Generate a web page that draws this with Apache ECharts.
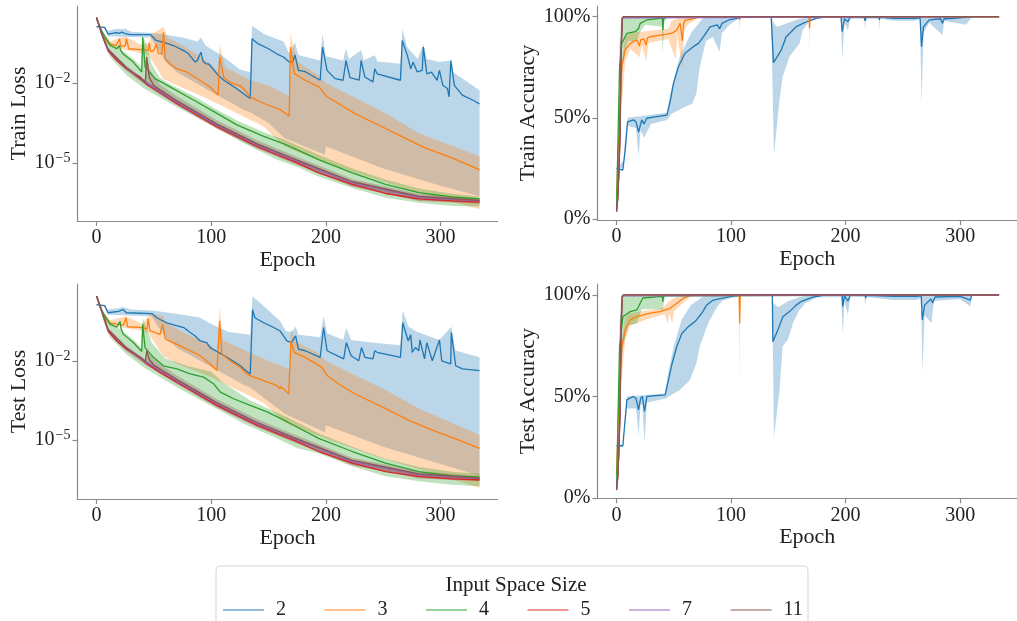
<!DOCTYPE html>
<html>
<head>
<meta charset="utf-8">
<script src="https://cdn.jsdelivr.net/npm/echarts@6/dist/echarts.min.js"></script>
<style>
  html, body { margin: 0; padding: 0; background: #fff; }
  #chart { width: 1017px; height: 621px; }
</style>
</head>
<body>
<div id="chart"></div>
<script>
// legend entries (input space size)
const sizes = ['2', '3', '4', '5', '7', '11']
const epochTicks = [0, 100, 200, 300]
const lossTicks = [-5, -2]        // log10 of the loss
const accTicks = [0, 50, 100]     // percent

// ---- train loss, [epoch, log10(loss)] ----
const tlBlue = [[0,0.11],[7,0.08],[10,-0.17],[17,-0.12],[20,-0.14],[22,-0.1],[25,-0.15],[29,-0.19],[47,-0.19],[52,-0.41],[60,-0.5],[67,-0.6],[76,-0.79],[80,-0.9],[86,-1.22],[88,-1.15],[91,-0.85],[93,-1.2],[95,-1.28],[98,-1.3],[106,-1.71],[111,-1.9],[122,-2.21],[130,-2.46],[134,-2.58],[135.6,-0.35],[141,-0.54],[150,-0.72],[157,-0.91],[163,-1.03],[168,-1.22],[171,-1.2],[173,-0.95],[176,-1.53],[182,-1.58],[195,-1.9],[197,-0.66],[201,-1.53],[208,-1.84],[215,-1.9],[217.5,-1.16],[221,-1.8],[229,-1.9],[230.7,-1.16],[234,-1.78],[241,-1.96],[242.6,-1.47],[244.7,-1.66],[265,-1.9],[266.6,-0.41],[271,-0.97],[274,-1.47],[276,-1.22],[279.7,-1.59],[284,-1.53],[285,-0.66],[288,-1.66],[292,-1.6],[297,-1.9],[299,-1.53],[302,-2.09],[306,-2.21],[307.4,-2.52],[309,-1.16],[312,-2.09],[319,-2.46],[328,-2.64],[334,-2.79]]
const tlBlueHi = [[0,0.15],[10,-0.05],[17,0.02],[25,0.03],[30,-0.08],[47,-0.12],[60,-0.2],[75,-0.3],[88,-0.45],[91,-0.3],[95,-0.6],[110,-1.0],[125,-1.5],[134,-1.6],[135.6,0.14],[146,-0.17],[163,-0.45],[168,-0.9],[173,-0.48],[176,-0.95],[195,-1.16],[197,-0.17],[200,-1.0],[215,-1.16],[217.5,-0.72],[220,-1.1],[230.7,-0.78],[233,-1.15],[242.6,-0.96],[245,-1.2],[265,-1.28],[266.6,0.02],[271,-0.66],[280,-1.1],[285,-0.54],[288,-1.1],[299,-1.22],[309,-1.16],[311,-1.6],[334,-2.27]]
const tlBlueLo = [[0,0.06],[7,0.04],[10,-0.25],[29,-0.28],[47,-0.3],[52,-0.6],[60,-1.2],[70,-1.6],[99,-2.3],[128,-3.0],[134,-3.1],[150,-3.5],[164,-4.07],[199,-4.69],[200,-4.38],[250,-5.2],[300,-5.85],[334,-6.24]]
const tlOrange = [[0,0.39],[3,0.1],[6,-0.29],[12,-0.54],[17,-0.6],[20,-0.35],[21,-0.62],[25,-0.62],[26,-0.33],[28,-0.72],[41,-0.76],[45,-0.78],[46,-0.51],[47,-0.83],[50,-0.78],[52,-0.55],[54,-0.9],[57,-0.92],[58.3,-0.1],[60,-1.1],[64,-1.28],[70,-1.47],[79,-1.6],[90,-1.9],[99,-2.15],[106,-2.46],[107.3,-1.03],[111,-1.8],[117,-1.99],[125,-2.11],[128,-2.2],[134,-2.52],[146,-2.77],[160,-3.0],[168,-3.24],[169,-0.66],[172.5,-1.65],[182,-1.9],[194,-2.15],[201,-2.52],[211,-2.77],[225,-3.14],[249,-3.64],[269,-4.07],[287,-4.44],[310,-4.81],[334,-5.25]]
const tlOrangeHi = [[0,0.42],[6,-0.2],[12,-0.45],[20,-0.3],[26,-0.28],[40,-0.6],[45,-0.5],[48,-0.2],[58.3,0.1],[62,-0.3],[75,-0.6],[90,-1.0],[100,-1.3],[106,-1.6],[107.3,-0.54],[112,-1.4],[134,-1.9],[150,-2.1],[168,-2.5],[169,-0.17],[175,-1.2],[193,-1.7],[200,-2.0],[252,-3.14],[281,-3.88],[334,-4.75]]
const tlOrangeLo = [[0,0.35],[6,-0.4],[12,-0.65],[40,-0.9],[45,-0.95],[52,-1.4],[58,-1.84],[70,-2.09],[99,-2.64],[128,-3.26],[146,-3.64],[157,-4.1],[165,-4.4],[200,-5.0],[250,-5.7],[300,-6.35],[334,-6.73]]
const tlGreen = [[0,0.39],[3,0.05],[6,-0.17],[12,-0.6],[17.5,-0.72],[20,-0.6],[21,-0.78],[23,-0.91],[32,-1.22],[39.4,-1.59],[40.2,-0.29],[42.3,-1.4],[51,-1.84],[64,-2.15],[84.5,-2.64],[105,-3.14],[122.4,-3.57],[145.8,-4.0],[164.5,-4.3],[193.6,-4.87],[223,-5.37],[252,-5.8],[281,-6.11],[310,-6.27],[334,-6.34]]
const tlGreenHi = [[0,0.42],[6,-0.1],[12,-0.5],[23,-0.8],[32,-1.1],[39,-1.4],[40.2,-0.25],[44,-0.6],[48,-1.3],[55,-1.8],[64,-2.05],[85,-2.5],[105,-3.0],[123,-3.42],[146,-3.85],[165,-4.15],[194,-4.7],[223,-5.2],[252,-5.62],[281,-5.95],[310,-6.15],[334,-6.25]]
const tlGreenLo = [[0,0.36],[6,-0.45],[11.7,-1.03],[26,-1.7],[41,-2.2],[70,-2.9],[99,-3.57],[128,-4.25],[157,-4.87],[175,-5.15],[193.6,-5.5],[223,-5.93],[252,-6.3],[281,-6.49],[310,-6.61],[334,-6.63]]
const tlRed = [[0,0.45],[2,0.2],[4.4,-0.17],[10,-0.79],[17.5,-1.16],[26,-1.47],[38,-1.78],[43.7,-2.05],[55,-2.35],[70,-2.77],[87.5,-3.2],[105,-3.64],[122.4,-4.0],[140,-4.38],[157.4,-4.69],[172,-4.94],[193.6,-5.37],[223,-5.8],[252,-6.14],[281,-6.34],[310,-6.42],[334,-6.46]]
const tlRedHi = [[0,0.47],[4.4,-0.12],[10,-0.72],[26,-1.4],[43.7,-1.98],[70,-2.7],[105,-3.56],[140,-4.3],[172,-4.86],[223,-5.72],[281,-6.26],[334,-6.4]]
const tlRedLo = [[0,0.43],[4.4,-0.22],[10,-0.86],[26,-1.54],[43.7,-2.12],[70,-2.84],[105,-3.72],[140,-4.46],[172,-5.02],[223,-5.88],[281,-6.42],[334,-6.52]]
const tlPurple = [[0,0.45],[4.4,-0.15],[10,-0.76],[26,-1.44],[43.7,-2.0],[70,-2.72],[105,-3.58],[140,-4.32],[172,-4.88],[223,-5.74],[281,-6.28],[334,-6.42]]
const tlPurpleHi = [[0,0.48],[4.4,-0.08],[10,-0.68],[26,-1.36],[43.7,-1.92],[70,-2.64],[105,-3.5],[140,-4.24],[172,-4.8],[223,-5.66],[281,-6.2],[334,-6.35]]
const tlPurpleLo = [[0,0.42],[4.4,-0.22],[10,-0.84],[26,-1.52],[43.7,-2.08],[70,-2.8],[105,-3.66],[140,-4.4],[172,-4.96],[223,-5.82],[281,-6.36],[334,-6.48]]
const tlBrown = [[0,0.45],[4.4,-0.15],[10,-0.75],[26,-1.43],[42.5,-1.98],[43.7,-1.03],[46,-1.8],[50,-2.1],[55,-2.25],[70,-2.67],[87.5,-3.1],[105,-3.54],[140,-4.28],[172,-4.84],[223,-5.7],[281,-6.25],[334,-6.4]]
const tlBrownHi = [[0,0.47],[10,-0.7],[26,-1.38],[42.5,-1.9],[43.7,-0.95],[46,-1.5],[55,-2.05],[70,-2.5],[105,-3.4],[140,-4.15],[172,-4.72],[223,-5.6],[281,-6.15],[334,-6.32]]
const tlBrownLo = [[0,0.43],[10,-0.82],[26,-1.5],[43.7,-2.1],[55,-2.42],[70,-2.82],[105,-3.7],[140,-4.44],[172,-5.0],[223,-5.86],[281,-6.4],[334,-6.5]]

// ---- test loss, [epoch, log10(loss)] ----
const blBlue = [[0,0.14],[7,0.1],[10,-0.17],[19,-0.12],[23,-0.05],[26,-0.17],[48,-0.2],[52.5,-0.36],[61,-0.55],[76,-0.73],[81.6,-0.92],[86,-1.05],[90.4,-1.24],[96,-1.3],[99,-1.49],[106.4,-1.67],[113.7,-1.86],[125.4,-2.18],[130,-2.36],[134,-2.49],[136,-0.05],[138,-0.36],[145.8,-0.55],[154.5,-0.73],[160,-0.86],[166,-1.24],[170,-1.3],[173.6,-1.05],[176,-1.55],[182,-1.61],[195,-1.86],[198,-0.73],[201,-1.61],[215.5,-1.92],[217.8,-1.3],[222,-1.8],[228.6,-1.99],[231,-1.49],[234,-1.86],[241,-1.92],[242.6,-1.61],[244.7,-1.67],[265,-1.86],[267,-0.55],[271.8,-1.24],[274,-1.0],[275.3,-1.67],[278,-1.49],[281,-1.61],[282,-1.2],[286,-1.92],[288,-1.3],[292.8,-1.99],[299,-1.2],[301,-1.99],[308.8,-2.11],[309.4,-0.92],[313.2,-2.18],[319,-2.3],[334,-2.36]]
const blBlueHi = [[0,0.18],[10,-0.05],[19,0.0],[23,0.05],[30,-0.05],[48,-0.08],[55,-0.12],[75,-0.25],[90,-0.35],[100,-0.6],[115,-0.9],[134,-1.0],[136,0.45],[146,0.08],[160,-0.48],[165,-0.86],[170,-0.9],[173.6,-0.7],[176,-1.0],[195,-1.1],[198,-0.3],[201,-0.95],[215,-1.2],[217.8,-0.75],[222,-1.2],[240,-1.3],[265,-1.4],[267,-0.08],[272,-0.7],[280,-0.9],[299,-1.2],[309.4,-0.7],[313,-1.6],[334,-1.86]]
const blBlueLo = [[0,0.1],[7,0.06],[10,-0.25],[48,-0.3],[52,-0.6],[60,-1.1],[70,-1.5],[99,-2.2],[128,-2.9],[134,-3.0],[164,-4.0],[199,-4.7],[200,-4.43],[250,-5.25],[300,-5.9],[334,-6.35]]
const blOrange = [[0,0.46],[3,0.1],[6,-0.3],[11.7,-0.55],[23.3,-0.64],[25.7,-0.36],[27,-0.7],[40.8,-0.73],[44,-0.8],[45,-0.39],[46.5,-0.85],[55.4,-0.99],[57.7,-0.61],[60,-1.17],[67,-1.3],[76,-1.49],[90.4,-1.8],[99,-2.11],[105,-2.36],[107.3,-0.48],[109.3,-1.74],[116.6,-1.99],[125.4,-2.24],[131,-2.49],[134,-2.55],[145.8,-2.74],[157.4,-2.93],[160,-3.05],[160.6,-2.96],[167.6,-3.24],[169.5,-1.24],[172.5,-1.67],[182,-1.86],[196.6,-2.24],[201,-2.55],[211,-2.86],[225,-3.24],[249,-3.74],[272,-4.24],[292.8,-4.62],[316,-5.0],[334,-5.31]]
const blOrangeHi = [[0,0.48],[6,-0.2],[12,-0.45],[25.7,-0.3],[40,-0.6],[45,-0.3],[48,-0.2],[57.7,-0.3],[62,-0.6],[75,-0.9],[90,-1.2],[100,-1.4],[105,-1.7],[107.3,0.02],[110,-1.2],[134,-1.7],[150,-2.0],[168,-2.3],[169.5,-0.8],[175,-1.3],[193,-1.7],[200,-2.0],[252,-3.1],[281,-3.8],[334,-4.8]]
const blOrangeLo = [[0,0.42],[6,-0.4],[12,-0.65],[40,-0.85],[45,-0.95],[52,-1.4],[58,-1.8],[70,-2.1],[99,-2.6],[128,-3.2],[146,-3.6],[157,-4.05],[165,-4.35],[200,-4.95],[250,-5.7],[300,-6.35],[334,-6.8]]
const blGreen = [[0,0.46],[3,0.05],[6,-0.2],[11.7,-0.6],[17.5,-0.72],[20.4,-0.5],[21.5,-0.8],[23.3,-0.98],[32,-1.3],[39.4,-1.64],[40.2,-0.61],[42.3,-1.5],[49.6,-1.86],[58.3,-2.18],[70,-2.3],[81.6,-2.49],[93.3,-2.61],[102,-2.86],[108,-3.18],[119.5,-3.43],[134,-3.68],[148.7,-3.93],[166,-4.3],[193.6,-4.93],[223,-5.43],[252,-5.87],[281,-6.19],[310,-6.35],[334,-6.4]]
const blGreenHi = [[0,0.48],[6,-0.12],[12,-0.5],[23,-0.88],[32,-1.18],[39,-1.5],[40.2,-0.36],[44,-0.8],[48,-1.3],[60,-1.9],[80,-2.2],[100,-2.4],[110,-2.8],[134,-3.5],[166,-4.12],[194,-4.75],[223,-5.25],[252,-5.7],[281,-6.02],[310,-6.2],[334,-6.27]]
const blGreenLo = [[0,0.44],[6,-0.5],[11.7,-1.11],[26,-1.74],[41,-2.24],[70,-2.99],[99,-3.68],[128,-4.37],[157,-4.93],[175,-5.31],[193.6,-5.5],[223,-6.0],[252,-6.37],[281,-6.56],[310,-6.69],[334,-6.75]]
const blRed = [[0,0.46],[2,0.2],[4.4,-0.1],[10,-0.86],[17.5,-1.24],[26,-1.55],[38,-1.86],[43.7,-2.1],[55.4,-2.43],[70,-2.8],[87.5,-3.24],[105,-3.68],[122.4,-4.06],[140,-4.43],[157.4,-4.74],[172,-5.0],[193.6,-5.43],[223,-5.87],[252,-6.19],[281,-6.37],[310,-6.47],[334,-6.5]]
const blRedHi = [[0,0.48],[4.4,-0.05],[10,-0.79],[26,-1.48],[43.7,-2.03],[70,-2.73],[105,-3.6],[140,-4.35],[172,-4.92],[223,-5.79],[281,-6.29],[334,-6.44]]
const blRedLo = [[0,0.44],[4.4,-0.15],[10,-0.93],[26,-1.62],[43.7,-2.17],[70,-2.87],[105,-3.76],[140,-4.51],[172,-5.08],[223,-5.95],[281,-6.45],[334,-6.56]]
const blPurple = [[0,0.46],[4.4,-0.08],[10,-0.82],[26,-1.51],[43.7,-2.05],[70,-2.75],[105,-3.62],[140,-4.37],[172,-4.94],[223,-5.81],[281,-6.31],[334,-6.46]]
const blPurpleHi = [[0,0.49],[4.4,-0.01],[10,-0.74],[26,-1.43],[43.7,-1.97],[70,-2.67],[105,-3.54],[140,-4.29],[172,-4.86],[223,-5.73],[281,-6.23],[334,-6.39]]
const blPurpleLo = [[0,0.43],[4.4,-0.15],[10,-0.9],[26,-1.59],[43.7,-2.13],[70,-2.83],[105,-3.7],[140,-4.45],[172,-5.02],[223,-5.89],[281,-6.39],[334,-6.52]]
const blBrown = [[0,0.46],[4.4,-0.08],[10,-0.81],[26,-1.5],[42.5,-2.02],[43.7,-1.61],[46,-1.95],[50,-2.15],[55.4,-2.3],[70,-2.7],[87.5,-3.14],[105,-3.58],[140,-4.33],[172,-4.9],[223,-5.77],[281,-6.28],[334,-6.44]]
const blBrownHi = [[0,0.48],[10,-0.76],[26,-1.45],[42.5,-1.95],[43.7,-1.5],[46,-1.75],[55.4,-2.12],[70,-2.55],[105,-3.45],[140,-4.2],[172,-4.78],[223,-5.67],[281,-6.18],[334,-6.36]]
const blBrownLo = [[0,0.44],[10,-0.88],[26,-1.57],[43.7,-2.14],[55.4,-2.46],[70,-2.85],[105,-3.74],[140,-4.49],[172,-5.06],[223,-5.93],[281,-6.43],[334,-6.54]]

// ---- train accuracy, [epoch, percent] ----
const trBlue = [[0,25],[5.5,24.2],[7.5,34],[9.6,48],[14.8,49],[17,48],[19.2,43],[22,49],[24,47],[26.4,49.8],[35,50.6],[44,51.4],[47,58.8],[49.7,67],[54,75.3],[59.8,81.9],[67,85.2],[71.5,86.8],[75.8,90],[81.6,95],[88,96],[90,94],[92,96.7],[98,98.4],[104.8,99.2],[110,100],[135,100],[137,77.3],[143.8,83.5],[148,90],[152.5,92.6],[156.8,95],[162.6,96.7],[168.5,98],[174.3,99.2],[180,99.7],[196,99.8],[197,92.6],[199,99],[202,97.5],[204,99.8],[216,99.8],[217,98],[218,99.8],[229,99.8],[229.5,98.5],[230,99.8],[242,99.2],[261,99.2],[265,99.5],[266.3,85.2],[268,95],[273,98.4],[283,99],[284.6,96.7],[286,99],[295,99.2],[310,100],[334,100]]
const trBlueHi = [[0,25.5],[5.5,25],[7.5,40],[9.6,50],[44,52.5],[47,62],[55,80],[65,92],[75,99],[80,100],[135,100],[137,97],[140,95],[150,97],[160,99],[170,100],[334,100]]
const trBlueLo = [[0,24.5],[7,30],[9.6,46],[17,45],[19.2,30.8],[21,44],[24,40],[30,47],[44,49],[48,52],[60,55.5],[66,57],[69.7,62],[72.6,75],[78,88],[84,90],[90,82.7],[92,92],[98.7,96],[105,98.5],[110,99.5],[135,99.7],[137.4,31.6],[142.3,58.8],[145,70.3],[151,80.2],[159.7,86.8],[162.6,93.4],[168,97.5],[174,99.2],[196,99.5],[197,78.6],[199,97],[202,93.4],[204,99],[216.5,99],[217,93.4],[218,99],[229,99],[229.5,93.4],[230,99],[242,98],[261,98],[265,99],[266.3,56.3],[268,92],[273,97],[284.6,91],[286,98],[305,96],[310,99.5],[334,100]]
const trOrange = [[0,11],[3.2,58.8],[4.6,75.3],[7.5,83.5],[11.9,86.8],[17.7,88.5],[20,85.5],[21,88.5],[24,89],[25.8,86],[27,89.5],[29.3,90.1],[43.9,91.4],[49,92],[52.6,93.4],[55.5,96.7],[57.5,88],[58.5,96.5],[59.8,98.3],[66.8,99],[72.6,100],[107,100],[107.5,98.4],[108,100],[168,100],[168.5,94.2],[169,100],[334,100]]
const trOrangeHi = [[0,12],[3.2,70],[7.5,90],[12,92],[45,94],[48,98],[55,99.5],[60,100],[334,100]]
const trOrangeLo = [[0,10],[3.2,45],[7.5,78],[12,84],[20,80],[22,86],[25.8,78],[28,87],[45,89],[51.7,79],[53,91],[57.5,73.8],[59,93],[62,96],[70,99],[75,100],[107,100],[107.5,91.8],[108,100],[168,100],[168.5,81.9],[169,100],[334,100]]
const trGreen = [[0,6],[2.6,75],[4.6,86.8],[9,91.8],[16.3,92.6],[19.2,94.2],[20.6,96.7],[26.4,98.4],[38,99.2],[40,99.2],[40.4,93.4],[41,99.2],[45,100],[334,100]]
const trGreenHi = [[0,7],[2.6,85],[4,100],[334,100]]
const trGreenLo = [[0,5],[2.6,60],[6,80],[10,88],[18,88],[20,92],[25,96],[39.5,95],[40.4,82],[41.5,97],[45,100],[334,100]]
const trRed = [[0,4],[1,10],[2,22],[3,40],[4,83],[5,99],[6,100],[334,100]]
const trRedHi = [[0,4.5],[1,12],[2,26],[3,46],[4,88],[5,100],[334,100]]
const trRedLo = [[0,3.5],[1,8],[2,18],[3,34],[4,78],[5,98],[6,100],[334,100]]
const trPurple = [[0,4],[1,11],[2,24],[3,45],[4,86],[5,99.5],[6,100],[334,100]]
const trPurpleHi = [[0,4.5],[1,13],[2,28],[3,50],[4,90],[5,100],[334,100]]
const trPurpleLo = [[0,3.5],[1,9],[2,20],[3,40],[4,82],[5,99],[6,100],[334,100]]
const trBrown = [[0,3.5],[1,10],[2,23],[3,42],[4,84],[5,99],[6,100],[334,100]]
const trBrownHi = [[0,4.2],[1,12],[2,27],[3,48],[4,89],[5,100],[334,100]]
const trBrownLo = [[0,3],[1,8],[2,19],[3,36],[4,79],[5,98],[6,100],[334,100]]

// ---- test accuracy, [epoch, percent] ----
const brBlue = [[0,25.7],[5.5,25.7],[9,48.4],[14.8,50],[17,49],[19.2,43.4],[21,49],[22.5,50],[24.4,42.6],[26.5,50],[42.4,50.8],[45.3,58],[48.2,65.6],[52.6,74.6],[57,81],[62.7,84.4],[68.5,86.9],[74.4,91],[78.7,95],[84.5,97.5],[99,99.2],[110,100],[136,100],[136.5,77],[140.9,82.8],[145.2,89.3],[151,91.8],[156.8,95],[161,96.7],[171.4,98.9],[180,99.8],[197,99.8],[197.5,94.3],[199,99.5],[202,97],[204,99.8],[217,99.8],[217.5,98.5],[218,99.8],[242,99.3],[262,99.3],[266,99.5],[267,87.7],[269,95],[274.5,98],[276,96],[278,99],[300,99.3],[309,97.5],[310,100],[334,100]]
const brBlueHi = [[0,26.2],[5.5,26.2],[9,50],[42,51.5],[45.3,62],[50,75],[57,88],[65,95],[75,99],[80,100],[136,100],[137,96],[141,94],[150,97],[160,99],[170,100],[334,100]]
const brBlueLo = [[0,25.2],[5.5,25.2],[9,44],[17,44],[19.2,31],[21,46],[22.5,46],[24.4,27],[26.5,47],[43,49],[48,50.8],[55,53],[64,58],[69.7,66.4],[72.6,74.6],[80,86],[87,93.4],[92,97],[100,98.5],[110,99.5],[136,99.6],[137.4,29.5],[142.3,53.3],[145,74.6],[149.6,78],[154,86],[159.7,92.6],[165,96],[175,98.8],[196,99],[197.5,81],[199,97],[202,90.2],[204,99],[216.5,99],[217,94.3],[218,99],[242,97.5],[262,97.5],[266,98.5],[267,61.5],[269,90],[275,86],[277,97],[300,98],[309,94.3],[310,99.5],[334,100]]
const brOrange = [[0,11.5],[2.6,58],[4.6,74.6],[7.5,82.8],[11.9,87.7],[17.7,89.3],[29.3,91],[38,91.8],[42.4,92.6],[46.8,93.4],[52.6,95.9],[58.4,98.4],[65,100],[107,100],[107.5,86],[108,100],[334,100]]
const brOrangeHi = [[0,12.5],[2.6,68],[7.5,89],[12,91],[40,93.5],[46,97],[52,99],[60,100],[334,100]]
const brOrangeLo = [[0,10.5],[2.6,45],[7.5,78],[12,85],[29,88.5],[42,90.5],[44.5,86],[46,91],[48.5,86],[50,92],[56,95],[62,98],[68,100],[107,100],[107.5,55.7],[108,100],[334,100]]
const brGreen = [[0,5.7],[2.6,74.6],[5.5,89.3],[11.9,91.8],[17.7,92.6],[20.6,95.9],[23,98.5],[37,99.2],[40,99.2],[40.4,96.7],[41,99.5],[42.5,100],[334,100]]
const brGreenHi = [[0,6.5],[2.6,85],[4,100],[334,100]]
const brGreenLo = [[0,5],[2.6,62],[6,75],[10,85],[18,86],[22,93],[39.5,93],[40.4,91.8],[41.5,97],[43,100],[334,100]]
const brRed = [[0,4.1],[1,10],[2,22],[3,41],[4,84],[5,99],[6,100],[334,100]]
const brRedHi = [[0,4.6],[1,12],[2,26],[3,47],[4,89],[5,100],[334,100]]
const brRedLo = [[0,3.6],[1,8],[2,18],[3,35],[4,79],[5,98],[6,100],[334,100]]
const brPurple = [[0,4.1],[1,11],[2,24],[3,45],[4,87],[5,99.5],[6,100],[334,100]]
const brPurpleHi = [[0,4.6],[1,14],[2,29],[3,52],[4,91],[5,100],[334,100]]
const brPurpleLo = [[0,3.6],[1,9],[2,20],[3,39],[4,82],[5,99],[6,100],[334,100]]
const brBrown = [[0,3.8],[1,10],[2,23],[3,42],[4,85],[5,99],[6,100],[334,100]]
const brBrownHi = [[0,4.4],[1,13],[2,28],[3,50],[4,90],[5,100],[334,100]]
const brBrownLo = [[0,3.2],[1,8],[2,19],[3,36],[4,80],[5,98],[6,100],[334,100]]

const palette = ['#1f77b4', '#ff7f0e', '#2ca02c', '#d62728', '#9467bd', '#8c564b']
const FONT = 'Liberation Serif'
const AX = '#8a8a8a'
const TXT = '#222'

const panels = [
  { name: 'Train Loss', kind: 'loss', min: -7.17, max: 0.88,
    lines: [tlBlue, tlOrange, tlGreen, tlRed, tlPurple, tlBrown],
    his: [tlBlueHi, tlOrangeHi, tlGreenHi, tlRedHi, tlPurpleHi, tlBrownHi],
    los: [tlBlueLo, tlOrangeLo, tlGreenLo, tlRedLo, tlPurpleLo, tlBrownLo] },
  { name: 'Train Accuracy', kind: 'acc', min: -0.5, max: 105.3,
    lines: [trBlue, trOrange, trGreen, trRed, trPurple, trBrown],
    his: [trBlueHi, trOrangeHi, trGreenHi, trRedHi, trPurpleHi, trBrownHi],
    los: [trBlueLo, trOrangeLo, trGreenLo, trRedLo, trPurpleLo, trBrownLo] },
  { name: 'Test Loss', kind: 'loss', min: -7.23, max: 0.92,
    lines: [blBlue, blOrange, blGreen, blRed, blPurple, blBrown],
    his: [blBlueHi, blOrangeHi, blGreenHi, blRedHi, blPurpleHi, blBrownHi],
    los: [blBlueLo, blOrangeLo, blGreenLo, blRedLo, blPurpleLo, blBrownLo] },
  { name: 'Test Accuracy', kind: 'acc', min: -0.2, max: 105.4,
    lines: [brBlue, brOrange, brGreen, brRed, brPurple, brBrown],
    his: [brBlueHi, brOrangeHi, brGreenHi, brRedHi, brPurpleHi, brBrownHi],
    los: [brBlueLo, brOrangeLo, brGreenLo, brRedLo, brPurpleLo, brBrownLo] }
]

const grids = [
  { left: 77.5, top: 6, width: 420, height: 215 },
  { left: 597.5, top: 6, width: 420, height: 214 },
  { left: 77.5, top: 284, width: 420, height: 215 },
  { left: 597.5, top: 284, width: 420, height: 214.3 }
]

let xAxes = [], yAxes = [], series = []

panels.forEach((p, i) => {
  xAxes.push({
    gridIndex: i, type: 'value', min: -16.65, max: 349.65,
    name: 'Epoch', nameLocation: 'middle', nameGap: 28,
    nameTextStyle: { fontFamily: FONT, fontSize: 22, color: TXT },
    splitLine: { show: false },
    axisLine: { onZero: false, lineStyle: { color: AX, width: 1.2 } },
    axisTick: { length: 5, lineStyle: { color: AX, width: 1.2 }, customValues: epochTicks },
    axisLabel: { fontFamily: FONT, fontSize: 20, color: TXT, margin: 7, customValues: epochTicks }
  })
  let isLoss = p.kind === 'loss'
  let ticks = isLoss ? lossTicks : accTicks
  yAxes.push({
    gridIndex: i, type: 'value', min: p.min, max: p.max,
    name: p.name, nameLocation: 'middle', nameGap: isLoss ? 47 : 58, nameRotate: 90,
    nameTextStyle: { fontFamily: FONT, fontSize: 22, color: TXT },
    splitLine: { show: false },
    axisLine: { onZero: false, lineStyle: { color: AX, width: 1.2 } },
    axisTick: { length: 5, lineStyle: { color: AX, width: 1.2 }, customValues: ticks },
    axisLabel: {
      fontFamily: FONT, fontSize: 20, color: TXT, margin: 7, customValues: ticks,
      formatter: isLoss
        ? v => '{b|10}{s|\u2212' + Math.abs(v) + '}'
        : v => v + '%',
      rich: {
        b: { fontFamily: FONT, fontSize: 20, color: TXT },
        s: { fontFamily: FONT, fontSize: 14, color: TXT, padding: [0, 0, 10, 1] }
      }
    }
  })

  // error bands first (below every line)
  p.lines.forEach((ln, k) => {
    let hi = p.his[k], lo = p.los[k]
    series.push({
      type: 'custom', xAxisIndex: i, yAxisIndex: i, silent: true, z: 1,
      data: [[hi[0][0], hi[0][1]]],
      renderItem: (params, api) => {
        let pts = hi.map(d => api.coord(d)).concat(lo.slice().reverse().map(d => api.coord(d)))
        return { type: 'polygon', shape: { points: pts },
                 style: { fill: palette[k], opacity: 0.3 } }
      }
    })
  })
  p.lines.forEach((ln, k) => {
    series.push({
      name: sizes[k], type: 'line', xAxisIndex: i, yAxisIndex: i, z: 2,
      data: ln, showSymbol: false, symbol: 'none', silent: true,
      color: palette[k],
      lineStyle: { color: palette[k], width: 1.3 }
    })
  })
})

let chart = echarts.init(document.getElementById('chart'))
chart.setOption({
  animation: false,
  backgroundColor: '#fff',
  grid: grids,
  xAxis: xAxes,
  yAxis: yAxes,
  series: series,
  title: {
    text: 'Input Space Size', left: 511, top: 570, textAlign: 'center',
    textStyle: { fontFamily: FONT, fontSize: 21, fontWeight: 'normal', color: TXT }
  },
  legend: {
    data: sizes, left: 223, top: 600, orient: 'horizontal', padding: 0,
    icon: 'rect', itemWidth: 41, itemHeight: 1.6, itemGap: 38.5,
    itemStyle: { opacity: 0.65 },
    textStyle: { fontFamily: FONT, fontSize: 20, color: TXT, padding: [0, 0, 0, 7] }
  },
  graphic: [{
    type: 'rect', left: 215.5, top: 565.5, z: -10,
    shape: { width: 592, height: 80, r: 4 },
    style: { fill: '#fff', stroke: '#d5d5d5', lineWidth: 1 }
  }]
})
</script>
</body>
</html>
